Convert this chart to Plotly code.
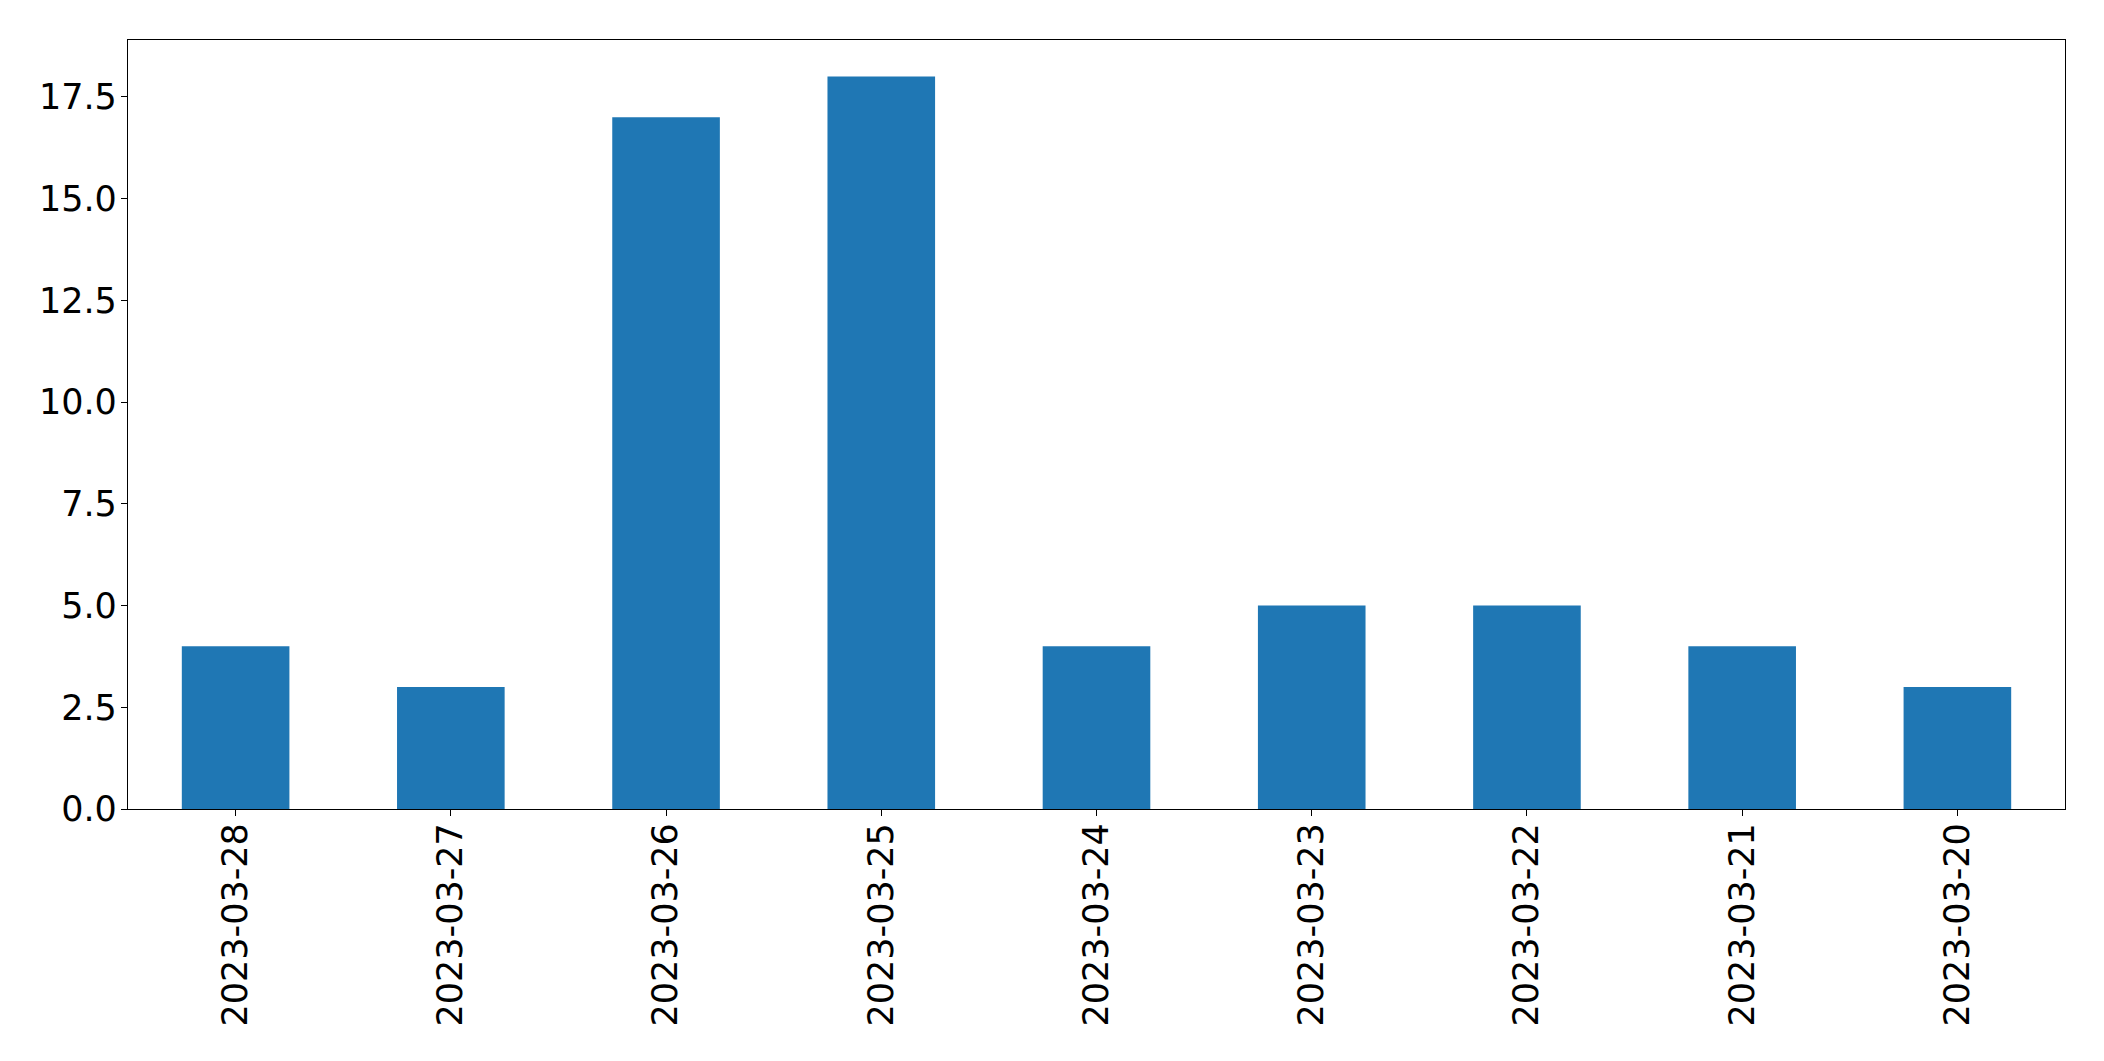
import plotly.graph_objects as go

dates = ["2023-03-28", "2023-03-27", "2023-03-26", "2023-03-25", "2023-03-24",
         "2023-03-23", "2023-03-22", "2023-03-21", "2023-03-20"]
counts = [4, 3, 17, 18, 4, 5, 5, 4, 3]
y_ticks = [0, 2.5, 5, 7.5, 10, 12.5, 15, 17.5]
y_tick_labels = ["0.0", "2.5", "5.0", "7.5", "10.0", "12.5", "15.0", "17.5"]

fig = go.Figure(go.Bar(x=dates, y=counts, width=0.5, marker=dict(color="#1f77b4", line=dict(width=0))))

fig.update_layout(
    width=2096, height=1053,
    margin=dict(l=120, r=39, t=32, b=252),
    paper_bgcolor="white", plot_bgcolor="white",
    font=dict(family="DejaVu Sans", size=35, color="black"),
    showlegend=False,
)
fig.update_xaxes(
    type="category", range=[-0.5, 8.5], tickangle=-90,
    showline=True, linecolor="black", linewidth=1.3, mirror=True,
    ticks="outside", ticklen=6, tickwidth=1.3, tickcolor="black",
    showgrid=False, zeroline=False, tickfont=dict(size=35),
    ticklabelstandoff=-7,
)
fig.update_yaxes(
    range=[0, 18.9], tickvals=y_ticks, ticktext=y_tick_labels,
    showline=True, linecolor="black", linewidth=1.3, mirror=True,
    ticks="outside", ticklen=6, tickwidth=1.3, tickcolor="black",
    showgrid=False, zeroline=False, tickfont=dict(size=35),
    ticklabelstandoff=-3,
)

fig.write_html("out.html")
